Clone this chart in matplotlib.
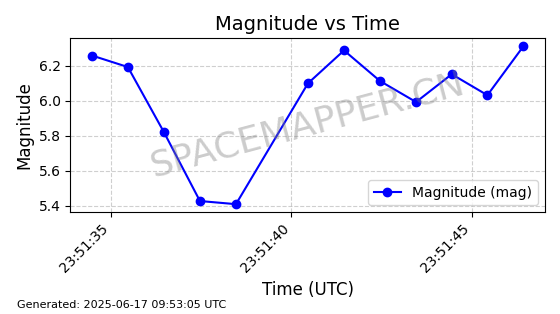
import matplotlib
matplotlib.use("Agg")
import matplotlib.pyplot as plt
import matplotlib.dates as mdates
from datetime import datetime, timedelta

# Data
base_time = "2025-06-16 23:51:00"
seconds = [34.46, 35.46, 36.46, 37.46, 38.46, 40.46, 41.46, 42.46, 43.46, 44.45, 45.44, 46.44]
magnitudes = [6.26, 6.194, 5.822, 5.428, 5.41, 6.101, 6.289, 6.114, 5.994, 6.153, 6.033, 6.313]
series_label = "Magnitude (mag)"
title = "Magnitude vs Time"
xlabel = "Time (UTC)"
ylabel = "Magnitude"
watermark = "SPACEMAPPER.CN"
footer = "Generated: 2025-06-17 09:53:05 UTC"

t0 = datetime.strptime(base_time, "%Y-%m-%d %H:%M:%S")
times = [t0 + timedelta(seconds=s) for s in seconds]

fig, ax = plt.subplots(figsize=(5.6, 3.14), dpi=100)
ax.plot(times, magnitudes, marker="o", color="blue", linestyle="-", label=series_label)
ax.set_title(title, fontsize=14)
ax.set_xlabel(xlabel, fontsize=12)
ax.set_ylabel(ylabel, fontsize=12)
ax.grid(True, linestyle="--", alpha=0.6)
ax.xaxis.set_major_locator(mdates.SecondLocator(interval=5))
ax.xaxis.set_major_formatter(mdates.DateFormatter("%H:%M:%S"))
plt.setp(ax.get_xticklabels(), rotation=45, ha="right")
ax.legend(loc="lower right")
ax.text(0.5, 0.5, watermark, transform=ax.transAxes, fontsize=26, color="gray",
        alpha=0.4, ha="center", va="center", rotation=15)
fig.tight_layout()
fig.text(0.03, 0.02, footer, fontsize=8)
fig.savefig("out.png", dpi=100)
